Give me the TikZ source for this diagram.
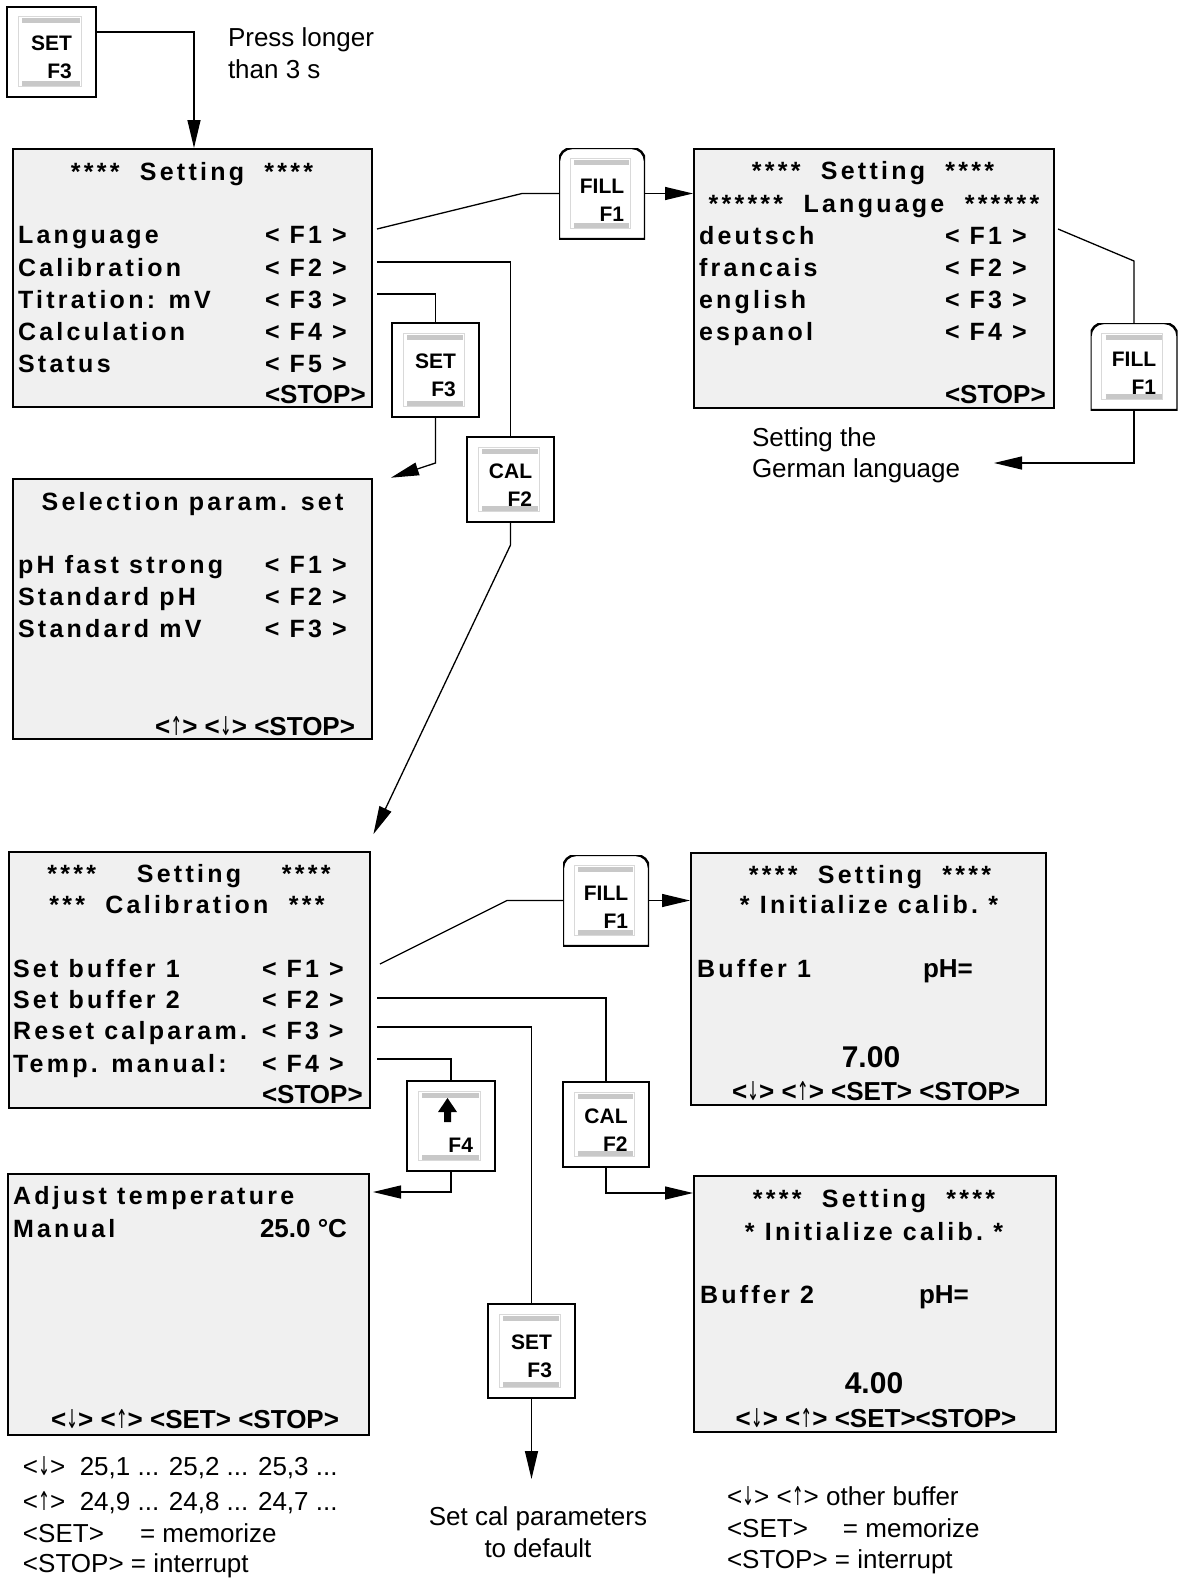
\documentclass[tikz,border=0pt]{standalone}
\usepackage{fontspec}
\usepackage{graphicx}
\setmainfont{Liberation Sans}
\newfontfamily\lcd[LetterSpace=13]{Liberation Sans}
\newfontfamily\arrfont{DejaVu Sans}
\usetikzlibrary{arrows.meta}
\definecolor{ink}{HTML}{000000}
\definecolor{lcdbg}{HTML}{F0F0F0}
\definecolor{rim}{HTML}{D9D9D9}
\definecolor{bar}{HTML}{C8C8C8}
\newcommand\dnarr{{\arrfont\mdseries\scalebox{0.55}[1]{↓}}}
\newcommand\uparr{{\arrfont\mdseries\scalebox{0.55}[1]{↑}}}
\newcommand\fkey[1]{<\hspace{10pt}#1\hspace{10pt}>}

\begin{document}
\begin{tikzpicture}[x=1pt,y=-1pt,line width=1.3pt,
  every node/.style={text=ink,inner sep=0pt,outer sep=0pt,font=\fontsize{26}{32}\selectfont},
  screen/.style={draw=ink,fill=lcdbg,line width=2.5pt,anchor=north west},
  lcdline/.style={anchor=base west,font=\lcd\bfseries\fontsize{25}{32}\selectfont},
  lcdtitle/.style={lcdline,anchor=base},
  lcdkeys/.style={anchor=base west,font=\bfseries\fontsize{26}{32}\selectfont},
  lcdvalue/.style={anchor=base,font=\bfseries\fontsize{30}{32}\selectfont},
  note/.style={anchor=base west},
  keycap/.style={minimum width=87pt,minimum height=90pt,align=right,
    font=\bfseries\fontsize{21}{28}\selectfont,
    path picture={
      \draw[rim,line width=1pt] ([shift={(11pt,-10pt)}]path picture bounding box.north west) rectangle ([shift={(-15pt,11pt)}]path picture bounding box.south east);
      \draw[bar,line width=5pt] ([shift={(15pt,-14pt)}]path picture bounding box.north west) -- ([shift={(-16pt,-14pt)}]path picture bounding box.north east);
      \draw[bar,line width=5pt] ([shift={(15pt,14pt)}]path picture bounding box.south west) -- ([shift={(-16pt,14pt)}]path picture bounding box.south east);
      #1}},
  keycap/.default={},
  key/.style={keycap,draw=ink,line width=1.2pt},
  fillkey/.style={keycap={\draw[ink,line width=2.4pt] (path picture bounding box.south west) -- ([yshift=-13pt]path picture bounding box.north west) arc[start angle=180,end angle=90,radius=13pt] -- ([xshift=-13pt]path picture bounding box.north east) arc[start angle=90,end angle=0,radius=13pt] -- (path picture bounding box.south east) -- cycle;}},
  flow/.style={-{Triangle[length=28pt,width=13pt]},shorten >=1pt}]
\path[use as bounding box] (0,0) rectangle (1179,1579);

% screens
\node[screen,minimum width=359pt,minimum height=258pt] (setmenu) at (13,149) {};
\node[screen,minimum width=360pt,minimum height=259pt] (langmenu) at (694,149) {};
\node[screen,minimum width=359pt,minimum height=260pt] (selmenu) at (13,479) {};
\node[screen,minimum width=361pt,minimum height=256pt] (calmenu) at (9,852) {};
\node[screen,minimum width=355pt,minimum height=252pt] (buf1) at (691,853) {};
\node[screen,minimum width=362pt,minimum height=256pt] (buf2) at (694,1176) {};
\node[screen,minimum width=361pt,minimum height=261pt] (adjmenu) at (8,1174) {};

% setting menu
\node[lcdtitle] (set0) at (192,180) {****~~Setting~~****};
\node[lcdline] (set1) at (18,243) {\makebox[247pt][l]{Language}\fkey{F1}};
\node[lcdline] (set2) at (18,276) {\makebox[247pt][l]{Calibration}\fkey{F2}};
\node[lcdline] (set3) at (18,308) {\makebox[247pt][l]{Titration: mV}\fkey{F3}};
\node[lcdline] (set4) at (18,340) {\makebox[247pt][l]{Calculation}\fkey{F4}};
\node[lcdline] (set5) at (18,372) {\makebox[247pt][l]{Status}\fkey{F5}};
\node[lcdkeys] (set6) at (265,403) {<STOP>};

% language menu
\node[lcdtitle] (lang0) at (873,179) {****~~Setting~~****};
\node[lcdtitle] (lang1) at (874,212) {******~~Language~~******};
\node[lcdline] (lang2) at (699,244) {\makebox[246pt][l]{deutsch}\fkey{F1}};
\node[lcdline] (lang3) at (699,276) {\makebox[246pt][l]{francais}\fkey{F2}};
\node[lcdline] (lang4) at (699,308) {\makebox[246pt][l]{english}\fkey{F3}};
\node[lcdline] (lang5) at (699,340) {\makebox[246pt][l]{espanol}\fkey{F4}};
\node[lcdkeys] (lang6) at (945,403) {<STOP>};

% parameter set menu
\node[lcdtitle] (sel0) at (192.5,510) {Selection param. set};
\node[lcdline] (sel1) at (18,573) {\makebox[247pt][l]{pH fast strong}\fkey{F1}};
\node[lcdline] (sel2) at (18,605) {\makebox[247pt][l]{Standard pH}\fkey{F2}};
\node[lcdline] (sel3) at (18,637) {\makebox[247pt][l]{Standard mV}\fkey{F3}};
\node[lcdkeys,anchor=base east] (sel4) at (355,735) {<\uparr> <\dnarr> <STOP>};

% calibration menu
\node[lcdtitle] (cal0) at (189,882) {****~~~~Setting~~~~****};
\node[lcdtitle] (cal1) at (187,913) {***~~Calibration~~***};
\node[lcdline] (cal2) at (13,977) {\makebox[249pt][l]{Set buffer 1}\fkey{F1}};
\node[lcdline] (cal3) at (13,1008) {\makebox[249pt][l]{Set buffer 2}\fkey{F2}};
\node[lcdline] (cal4) at (13,1039) {\makebox[249pt][l]{Reset calparam.}\fkey{F3}};
\node[lcdline] (cal5) at (13,1072) {\makebox[249pt][l]{Temp. manual:}\fkey{F4}};
\node[lcdkeys] (cal6) at (262,1103) {<STOP>};

% buffer 1
\node[lcdtitle] (b1t0) at (870,883) {****~~Setting~~****};
\node[lcdtitle] (b1t1) at (869,913) {*~Initialize calib.~*};
\node[lcdline] (b1t2) at (697,977) {Buffer 1};
\node[lcdkeys] (b1ph) at (923,977) {pH=};
\node[lcdvalue] (b1val) at (871,1067) {7.00};
\node[lcdkeys,anchor=base] (b1keys) at (876,1100) {<\dnarr> <\uparr> <SET> <STOP>};

% buffer 2
\node[lcdtitle] (b2t0) at (874,1207) {****~~Setting~~****};
\node[lcdtitle] (b2t1) at (874,1240) {*~Initialize calib.~*};
\node[lcdline] (b2t2) at (700,1303) {Buffer 2};
\node[lcdkeys] (b2ph) at (919,1303) {pH=};
\node[lcdvalue] (b2val) at (874,1393) {4.00};
\node[lcdkeys,anchor=base] (b2keys) at (876,1427) {<\dnarr> <\uparr> <SET><STOP>};

% temperature
\node[lcdline] (adj1) at (13,1204) {Adjust temperature};
\node[lcdline] (adj2) at (13,1237) {Manual};
\node[lcdkeys,anchor=base east] (adjval) at (347,1237) {25.0 °C};
\node[lcdkeys,anchor=base] (adjkeys) at (195,1428) {<\dnarr> <\uparr> <SET> <STOP>};

% notes
\node[note] (press1) at (228,47) {Press longer};
\node[note] (press2) at (228,78) {than 3 s};
\node[note] (ger1) at (752,446) {Setting the};
\node[note] (ger2) at (752,477) {German language};
\node[note,anchor=base] (def1) at (538,1525) {Set cal parameters};
\node[note,anchor=base] (def2) at (538,1557) {to default};
\node[note] (leg1) at (23,1475) {<\dnarr>~~25,1 ... 25,2 ... 25,3 ...};
\node[note] (leg2) at (23,1510) {<\uparr>~~24,9 ... 24,8 ... 24,7 ...};
\node[note] (leg3) at (23,1542) {\makebox[117pt][l]{<SET>}= memorize};
\node[note] (leg4) at (23,1572) {<STOP> = interrupt};
\node[note] (leg5) at (727,1505) {<\dnarr> <\uparr> other buffer};
\node[note] (leg6) at (727,1537) {\makebox[116pt][l]{<SET>}= memorize};
\node[note] (leg7) at (727,1568) {<STOP> = interrupt};

% keys
\node[key,minimum width=89pt] (setA) at (51.5,52) {\rule{0pt}{26pt}SET\\F3};
\node[fillkey,minimum width=86pt,minimum height=91pt] (fillA) at (602,193.5) {\rule{0pt}{27pt}FILL\\F1};
\node[key,minimum height=85pt] (calA) at (510.5,479.5) {\rule{0pt}{26pt}CAL\\F2};
\node[key,minimum height=94pt] (setB) at (435.5,370) {\rule{0pt}{26pt}SET\\F3};
\node[fillkey,minimum height=87pt] (fillB) at (1134,366.5) {\rule{0pt}{27pt}FILL\\F1};
\node[fillkey,minimum width=86pt,minimum height=91pt] (fillC) at (606,900.5) {\rule{0pt}{27pt}FILL\\F1};
\node[key,minimum width=86pt,minimum height=85pt] (calB) at (606,1124.5) {\rule{0pt}{26pt}CAL\\F2};
\node[key,minimum height=94pt] (setC) at (531.5,1351) {\rule{0pt}{26pt}SET\\F3};
\node[key,minimum width=88pt] (upkey) at (451,1126) {\rule{0pt}{24pt}\makebox[44pt]{}\\F4};
\fill[ink,shift={(upkey.center)}] (-3.5pt,28pt) -- (6pt,14pt) -- (0pt,14pt) -- (0pt,4pt) -- (-7pt,4pt) -- (-7pt,14pt) -- (-13pt,14pt) -- cycle;

% connectors
\coordinate (slang) at (377,229);
\coordinate (scal) at (377,262);
\coordinate (stit) at (377,294);
\coordinate (sdeu) at (1058,229);
\coordinate (sbuf1) at (380,964);
\coordinate (sbuf2) at (377,998);
\coordinate (sreset) at (377,1027);
\coordinate (stemp) at (377,1059);
\coordinate (calin) at (373,835);
\coordinate (selin) at (390,478);
\coordinate (gerin) at (993,463);
\coordinate (defin) at (531.5,1480);

\draw[flow] ([yshift=20pt]setA.east) -| ([xshift=1.5pt]setmenu.north);
\draw (slang) -- ([xshift=-37pt]fillA.west) -- (fillA.west);
\draw[flow] (fillA.east) -- (fillA.east -| langmenu.west);
\draw (scal) -| (calA.north);
\draw[flow] (calA.south) -- ++(0,23) -- (calin);
\draw (stit) -| (setB.north);
\draw[flow] (setB.south) -- ++(0,46) -- (selin);
\draw (sdeu) -- ([yshift=62pt]fillB.north) -- (fillB.north);
\draw[flow] (fillB.south) |- (gerin);
\draw (sbuf1) -- ([xshift=-56pt]fillC.west) -- (fillC.west);
\draw[flow] (fillC.east) -- (fillC.east -| buf1.west);
\draw (sbuf2) -| (calB.north);
\draw[flow] (calB.south) |- ([yshift=-17pt]buf2.north west);
\draw (sreset) -| (setC.north);
\draw[flow] (setC.south) -- (defin);
\draw (stemp) -| (upkey.north);
\draw[flow] (upkey.south) |- ([shift={(3pt,-18pt)}]adjmenu.north east);

\end{tikzpicture}
\end{document}
